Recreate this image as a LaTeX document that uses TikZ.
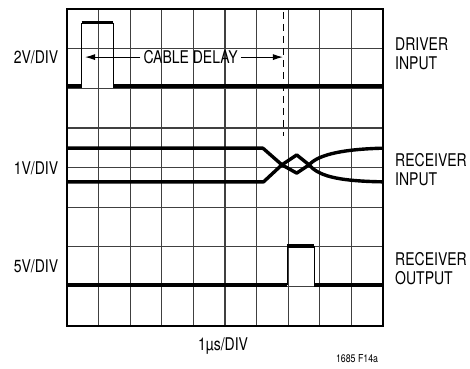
\documentclass[tikz,border=0pt]{standalone}
\usepackage{fontspec}
\setmainfont{TeX Gyre Heros}[FakeStretch=0.8]
\usetikzlibrary{arrows.meta}

\begin{document}
\begin{tikzpicture}[x=31.6pt,y=39.6pt,
    grid line/.style={black!75,line width=1.2pt},
    trace/.style={line width=3.4pt,line join=round},
    thinedge/.style={line width=1pt},
    delayarrow/.style={line width=1pt,-{Latex[length=10pt,width=6pt]}},
    scopetext/.style={font=\fontsize{17.5}{19}\selectfont,align=left,inner sep=0pt}]
    \useasboundingbox (-2.12,-1.086) rectangle (12.753,8.232);
    % graticule
    \foreach \x in {1,...,9} \draw[grid line] (\x,0) -- (\x,8);
    \foreach \y in {1,...,7} \draw[grid line] (0,\y) -- (10,\y);
    \draw[line width=1.6pt] (0,0) rectangle (10,8);
    % driver input
    \draw[trace] (0,6.06) -- (0.465,6.06);
    \draw[thinedge] (0.465,6.06) -- (0.465,7.66);
    \draw[trace] (0.465,7.66) -- (1.47,7.66);
    \draw[thinedge] (1.47,7.66) -- (1.47,6.06);
    \draw[trace] (1.47,6.06) -- (10,6.06);
    % cable delay
    \node[scopetext,inner sep=3pt] (delay) at (3.91,6.79) {CABLE DELAY};
    \coordinate (delay start) at (0.57,6.79);
    \coordinate (delay end) at (6.835,6.79);
    \draw[delayarrow] (delay.west) -- (delay start);
    \draw[delayarrow] (delay.east) -- (delay end);
    \draw[thinedge,dash pattern=on 7pt off 5pt] (6.845,7.93) -- (6.845,4.80);
    % receiver input
    \draw[trace] (0,4.49) -- (6.20,4.49) -- (6.80,4.07) -- (7.27,3.86) -- (7.66,4.07)
        .. controls (7.9,4.28) and (8.5,4.46) .. (10,4.49);
    \draw[trace] (0,3.64) -- (6.22,3.64) -- (6.80,4.07) -- (7.27,4.32) -- (7.66,4.07)
        .. controls (7.95,3.80) and (8.5,3.66) .. (10,3.64);
    % receiver output
    \draw[trace] (0,1.035) -- (6.97,1.035);
    \draw[thinedge] (6.97,1.035) -- (6.97,2.02);
    \draw[trace] (6.97,2.02) -- (7.82,2.02);
    \draw[thinedge] (7.82,2.02) -- (7.82,1.035);
    \draw[trace] (7.82,1.035) -- (10,1.035);
    % labels
    \node[scopetext,anchor=east] (driver scale) at (-0.272,6.79) {2V/DIV};
    \node[scopetext,anchor=east] (rin scale) at (-0.272,3.99) {1V/DIV};
    \node[scopetext,anchor=east] (rout scale) at (-0.272,1.50) {5V/DIV};
    \node[scopetext,anchor=west] (driver name) at (10.38,6.87) {DRIVER\\INPUT};
    \node[scopetext,anchor=west] (rin name) at (10.38,3.94) {RECEIVER\\INPUT};
    \node[scopetext,anchor=west] (rout name) at (10.38,1.44) {RECEIVER\\OUTPUT};
    \node[scopetext] (time scale) at (4.94,-0.505) {1µs/DIV};
    \node[font=\fontsize{11}{13}\selectfont,inner sep=0pt] (fig id) at (9.18,-0.83) {1685 F14a};
\end{tikzpicture}
\end{document}
